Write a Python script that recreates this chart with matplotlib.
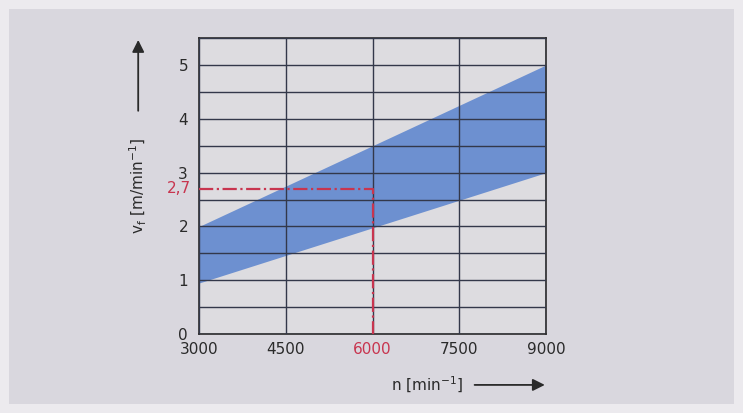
import numpy as np
import matplotlib.pyplot as plt
from matplotlib.patches import Rectangle

# data
n_range = [3000, 9000]
vf_low = [0.95, 3.0]
vf_high = [2.0, 5.0]
n_mark = 6000
vf_mark = 2.7
x_ticks = [3000, 4500, 6000, 7500, 9000]
y_ticks = [0, 1, 2, 3, 4, 5]

red = '#c8354f'
blue = '#6d90d0'

fig = plt.figure(figsize=(7.43, 4.13), dpi=100)
fig.patch.set_facecolor('#eceaee')
fig.patches.append(Rectangle((0.012, 0.022), 0.976, 0.956, transform=fig.transFigure,
                             facecolor='#d9d7de', edgecolor='none', zorder=-1))

ax = fig.add_axes([0.268, 0.191, 0.467, 0.717])
ax.set_facecolor('#dddce0')
ax.fill_between(n_range, vf_low, vf_high, color=blue, linewidth=0, zorder=1)

ax.set_xlim(3000, 9000)
ax.set_ylim(0, 5.5)
ax.set_xticks(x_ticks)
ax.set_yticks(y_ticks)
ax.set_yticks(np.arange(0, 5.51, 0.5), minor=True)
ax.grid(True, which='both', axis='y', color='#33384a', linewidth=1.0, zorder=2)
ax.grid(True, which='major', axis='x', color='#33384a', linewidth=1.0, zorder=2)
ax.set_axisbelow(False)
ax.tick_params(which='both', length=0, labelsize=11, colors='#2a2a2a', pad=8)
ax.tick_params(axis='x', pad=6)
for s in ax.spines.values():
    s.set_color('#2a2a2a')
    s.set_linewidth(1.2)

# red reading line
ax.plot([3000, n_mark, n_mark], [vf_mark, vf_mark, 0], color=red, linestyle='-.',
        linewidth=1.6, zorder=3, clip_on=False)
ax.get_xticklabels()[2].set_color(red)
ax.text(-0.022, vf_mark, '2,7', color=red, fontsize=11, ha='right', va='center',
        transform=ax.get_yaxis_transform())

# axis labels with arrows
fig.text(0.186, 0.55, r'v$_\mathrm{f}$ [m/min$^{-1}$]', rotation=90, fontsize=11,
         ha='center', va='center', color='#2a2a2a')
ax.annotate('', xy=(0.186, 0.91), xytext=(0.186, 0.725), xycoords='figure fraction',
            arrowprops=dict(arrowstyle='-|>', color='#2a2a2a', lw=1.3, mutation_scale=18))
fig.text(0.575, 0.068, r'n [min$^{-1}$]', fontsize=11, ha='center', va='center',
         color='#2a2a2a')
ax.annotate('', xy=(0.737, 0.068), xytext=(0.635, 0.068), xycoords='figure fraction',
            arrowprops=dict(arrowstyle='-|>', color='#2a2a2a', lw=1.3, mutation_scale=18))

plt.savefig('out.png', dpi=100, facecolor=fig.get_facecolor())
